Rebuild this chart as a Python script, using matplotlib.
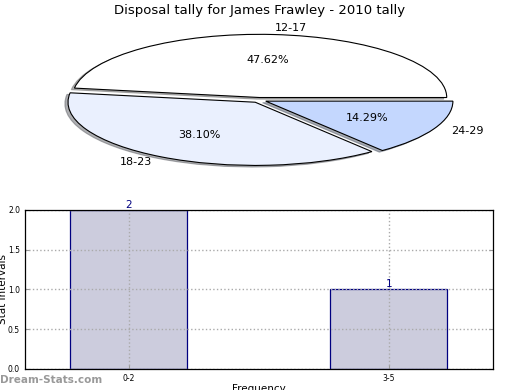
import matplotlib
matplotlib.use("Agg")
import matplotlib.pyplot as plt

# pie data
age_groups = ["12-17", "18-23", "24-29"]
disposals = [10, 8, 3]
pie_colors = ["#ffffff", "#eaf0fe", "#c4d7fe"]

# bar data
freq_bins = ["0-2", "3-5"]
stat_counts = [2, 1]

fig = plt.figure(figsize=(5.2, 3.9), dpi=100)

ax1 = fig.add_axes([0.048, 0.541, 0.90, 0.405])
ax1.pie(disposals, labels=age_groups, colors=pie_colors, autopct="%.2f%%",
        explode=[0.04, 0.04, 0.04],
        shadow={"ox": -0.012, "oy": -0.018, "shade": 0.6},
        wedgeprops={"edgecolor": "black", "linewidth": 0.8},
        textprops={"fontsize": 8})
ax1.set_aspect("auto")
ax1.set_xlim(-1.25, 1.25)
ax1.set_ylim(-1.25, 1.25)
fig.text(0.5, 0.965, "Disposal tally for James Frawley - 2010 tally",
         ha="center", fontsize=9.5)

ax2 = fig.add_axes([0.048, 0.054, 0.90, 0.408])
x = range(len(freq_bins))
bars = ax2.bar(x, stat_counts, width=0.45, color="#ccccdd",
               edgecolor="navy", linewidth=0.9, zorder=2)
for xi, v in zip(x, stat_counts):
    ax2.text(xi, v, str(v), ha="center", va="bottom", color="navy",
             fontsize=7.5, zorder=3)
ax2.set_xlim(-0.4, 1.4)
ax2.set_ylim(0, 2.0)
ax2.set_xticks(list(x))
ax2.set_xticklabels(freq_bins)
ax2.set_yticks([0, 0.5, 1.0, 1.5, 2.0])
ax2.set_yticklabels(["0.0", "0.5", "1.0", "1.5", "2.0"])
ax2.tick_params(labelsize=5.5, direction="in", length=3, color="#999999",
                right=True, top=False)
ax2.grid(True, linestyle=":", color="#aaaaaa", linewidth=1, zorder=2.5)
ax2.set_axisbelow(False)
ax2.set_xlabel("Frequency", fontsize=7.5, labelpad=1)
ax2.set_ylabel("Stat Intervals", fontsize=7.5, labelpad=0)
for s in ax2.spines.values():
    s.set_linewidth(0.9)
    s.set_zorder(4)

fig.text(0.0, 0.018, "Dream-Stats.com", color="#999999", fontsize=7.5,
         fontweight="bold")

fig.savefig("out.png", dpi=100)
